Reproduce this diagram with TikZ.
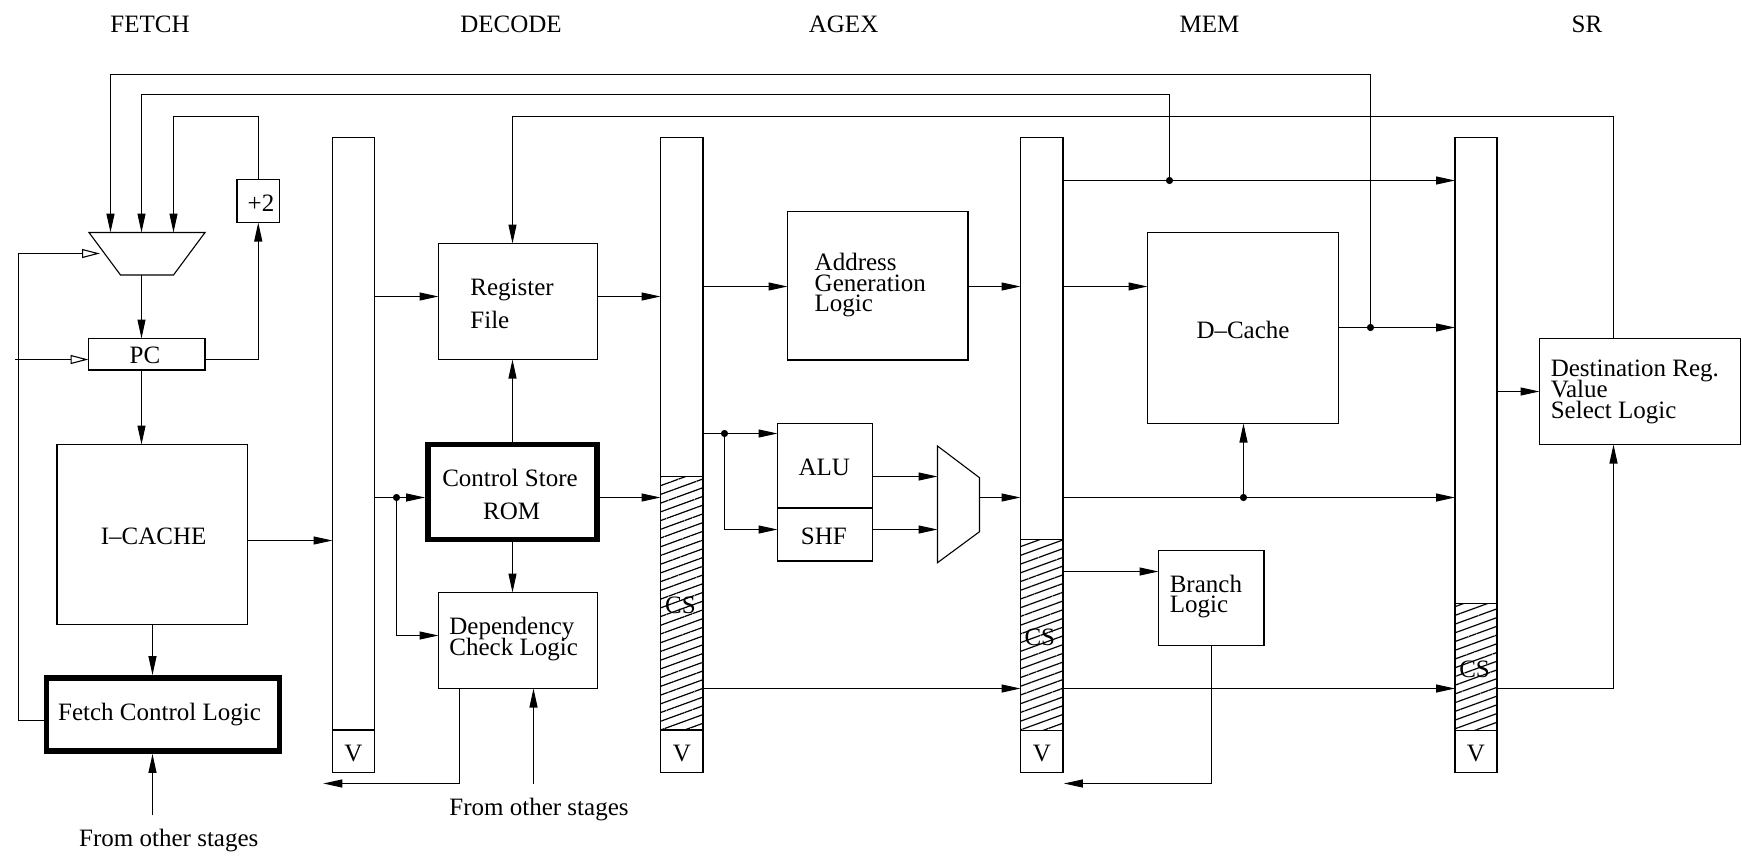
\documentclass[tikz,border=0pt]{standalone}
\usepackage{fontspec}
\setmainfont{Liberation Serif}
\usetikzlibrary{arrows.meta,fit,patterns.meta}
\begin{document}
\begin{tikzpicture}[x=0.5pt,y=-0.5pt,
  ln/.style={line width=0.55pt},
  arr/.style={ln,-{Triangle[length=9.5pt,width=4pt]}},
  oarr/.style={ln,-{Triangle[open,length=9pt,width=4.5pt]}},
  blk/.style={draw,ln,inner sep=0pt,outer sep=0pt},
  thk/.style={draw,line width=2.75pt,inner sep=0pt},
  hatchbox/.style={draw,ln,inner sep=0pt,outer sep=0pt,pattern color=black,
     pattern={Lines[angle=20,distance=4.1pt,line width=0.6pt]}},
  txt/.style={inner sep=0pt,font=\fontsize{12.5pt}{15pt}\selectfont},
  ctxt/.style={txt,anchor=base},
  ltxt/.style={txt,anchor=base west},
  dot/.style={circle,fill,inner sep=0pt,minimum size=3.6pt},
]
\useasboundingbox (0,0) rectangle (1742,857);

% stage labels
\node[ctxt] (sFetch) at (150,32.3) {FETCH};
\node[ctxt] (sDecode) at (511,32.3) {DECODE};
\node[ctxt] (sAgex) at (843.6,32.3) {AGEX};
\node[ctxt] (sMem) at (1209.6,32.3) {MEM};
\node[ctxt] (sSr) at (1587,32.3) {SR};

% hatched CS parts of latches
\node[hatchbox, fit={(660.5,476.5) (703,730)}] (h2) {};
\node[hatchbox, fit={(1020.5,539.5) (1063,730.5)}] (h3) {};
\node[hatchbox, fit={(1455,603.5) (1497,730.5)}] (h4) {};

% latches
\node[blk, fit={(332.5,137.5) (374.5,772.5)}] (L1) {};
\node[blk, fit={(660.5,137.5) (703,772.5)}] (L2) {};
\node[blk, fit={(1020.5,137.5) (1063,772.5)}] (L3) {};
\node[blk, fit={(1455,137.5) (1497,772.5)}] (L4) {};
\node[blk, fit={(332.5,730) (374.5,772.5)}] (V1) {};
\node[blk, fit={(660.5,730) (703,772.5)}] (V2) {};
\node[blk, fit={(1020.5,730.5) (1063,772.5)}] (V3) {};
\node[blk, fit={(1455,730.5) (1497,772.5)}] (V4) {};
\node[ctxt] (v1t) at (353.5,761.7) {V};
\node[ctxt] (v2t) at (681.8,761.7) {V};
\node[ctxt] (v3t) at (1041.8,761.7) {V};
\node[ctxt] (v4t) at (1476,761.7) {V};
\node[ctxt] (cs2) at (680.5,613.3) {CS};
\node[ctxt] (cs3) at (1039.8,645) {CS};
\node[ctxt] (cs4) at (1474.6,677.3) {CS};

% boxes
\node[blk, fit={(88.5,338.5) (205,370)}] (pc) {};
\node[blk, fit={(237,179.5) (279.5,222.5)}] (p2) {};
\node[blk, fit={(57,444.5) (247.5,624.5)}] (ic) {};
\node[thk, fit={(46.5,677.8) (279.5,751.2)}] (fcl) {};
\node[blk, fit={(438.5,243.5) (597.5,359.5)}] (rf) {};
\node[thk, fit={(427.8,444.5) (597.2,539.5)}] (csr) {};
\node[blk, fit={(438.5,592.5) (597.5,688.5)}] (dcl) {};
\node[blk, fit={(787.5,211.5) (968,360)}] (agl) {};
\node[blk, fit={(777.5,423.5) (872.5,508)}] (alu) {};
\node[blk, fit={(777.5,508) (872.5,561)}] (shf) {};
\node[blk, fit={(1147.5,232.5) (1338.5,423.5)}] (dc) {};
\node[blk, fit={(1158.5,550.5) (1264,645.5)}] (bl) {};
\node[blk, fit={(1539.5,338.5) (1740.5,444.5)}] (drv) {};

% muxes
\draw[ln] (89,232.5) coordinate (m1a) -- (205,232.5) coordinate (m1b)
  -- (173.5,275) coordinate (m1c) -- (120.5,275) coordinate (m1d) -- cycle;
\draw[ln] (937.5,446) coordinate (m2a) -- (979.5,477.7) coordinate (m2b)
  -- (979.5,531.7) coordinate (m2c) -- (937.5,562.7) coordinate (m2d) -- cycle;

% texts
\node[ctxt] (pct) at (145,363.3) {PC};
\node[ctxt] (p2t) at (261,211.7) {+2};
\node[ctxt] (ict) at (153.7,544) {I--CACHE};
\node[ctxt] (fclt) at (159.5,720) {Fetch Control Logic};
\node[ctxt] (fos1t) at (168.8,846.5) {From other stages};
\node[ctxt] (fos2t) at (539,815) {From other stages};
\node[ctxt] (csrt1) at (510,486.7) {Control Store};
\node[ctxt] (csrt2) at (511.7,519) {ROM};
\node[ctxt] (alut) at (824.2,475) {ALU};
\node[ctxt] (shft) at (823.8,544) {SHF};
\node[ctxt] (dct) at (1243,338.3) {D--Cache};
\node[ltxt] (rft1) at (470,295) {Register};
\node[ltxt] (rft2) at (470,328) {File};
\node[ltxt] (aglt1) at (814.3,270) {Address};
\node[ltxt] (aglt2) at (814.3,291) {Generation};
\node[ltxt] (aglt3) at (814.3,311) {Logic};
\node[ltxt] (dclt1) at (449,634) {Dependency};
\node[ltxt] (dclt2) at (449,655.7) {Check Logic};
\node[ltxt] (blt1) at (1169.4,592.7) {Branch};
\node[ltxt] (blt2) at (1169.4,612.5) {Logic};
\node[ltxt] (drvt1) at (1550.4,376.5) {Destination Reg.};
\node[ltxt] (drvt2) at (1550.4,397.5) {Value};
\node[ltxt] (drvt3) at (1550.4,418) {Select Logic};

% junctions
\coordinate (j1) at (1370.5,327.5);
\coordinate (j2) at (1169.5,180.5);
\coordinate (j3) at (396.5,497.5);
\coordinate (j4) at (724.5,433.5);
\coordinate (j5) at (1243.5,497.5);
\coordinate (pcin) at (15,359.5);
\coordinate (fos1) at (152.5,815);
\coordinate (fos2) at (533.5,783.5);
\coordinate (dclout) at (323.3,783.5);
\coordinate (blout) at (1063.9,783.5);

% feedback lines over the top
\draw[arr,line width=0.75pt] (j1) |- (110.5,74.5) -- (m1a -| 110.5,0);
\draw[arr] (j2) |- (141.5,94.5) -- (m1a -| 141.5,0);
\draw[arr] (p2.north) |- (173.5,116.5) -- (m1a -| 173.5,0);
\draw[arr] (drv.north -| 1613.5,0) |- (512.5,116.5) -- (rf.north -| 512.5,0);

% fetch stage
\draw[oarr] (fcl.west |- 0,720.5) -| (18.5,253.5) -- (100,253.5);
\draw[oarr] (pcin) -- (pc.west |- pcin);
\draw[arr] (pc.east |- 0,359.5) -| (p2.south);
\draw[arr] (m1d -| 141.5,0) -- (pc.north -| 141.5,0);
\draw[arr] (pc.south -| 141.5,0) -- (ic.north -| 141.5,0);
\draw[arr] (ic.south -| 152.5,0) -- (fcl.north -| 152.5,0);
\draw[arr] (fos1) -- (fos1 |- fcl.south);
\draw[arr] (ic.east |- 0,540.5) -- (L1.west |- 0,540.5);

% decode stage
\draw[arr] (L1.east |- 0,296.5) -- (rf.west |- 0,296.5);
\draw[ln] (L1.east |- j3) -- (j3);
\draw[arr] (j3) -- (csr.west |- j3);
\draw[arr] (j3) |- (dcl.west |- 0,635.5);
\draw[arr] (csr.north -| 512.5,0) -- (rf.south -| 512.5,0);
\draw[arr] (csr.south -| 512.5,0) -- (dcl.north -| 512.5,0);
\draw[arr] (csr.east |- j3) -- (L2.west |- j3);
\draw[arr] (rf.east |- 0,296.5) -- (L2.west |- 0,296.5);
\draw[arr] (dcl.south -| 459.5,0) |- (dclout);
\draw[arr] (fos2) -- (fos2 |- dcl.south);

% agex stage
\draw[arr] (L2.east |- 0,286.5) -- (agl.west |- 0,286.5);
\draw[arr] (agl.east |- 0,286.5) -- (L3.west |- 0,286.5);
\draw[ln] (L2.east |- j4) -- (j4);
\draw[arr] (j4) -- (alu.west |- j4);
\draw[arr] (j4) |- (shf.west |- 0,529.5);
\draw[arr] (alu.east |- 0,476.5) -- (m2a |- 0,476.5);
\draw[arr] (shf.east |- 0,529.5) -- (m2a |- 0,529.5);
\draw[arr] (m2b |- j3) -- (L3.west |- j3);
\draw[arr] (L2.east |- 0,688.5) -- (L3.west |- 0,688.5);

% mem stage
\draw[ln] (L3.east |- j2) -- (j2);
\draw[arr] (j2) -- (L4.west |- j2);
\draw[arr] (L3.east |- 0,286.5) -- (dc.west |- 0,286.5);
\draw[ln] (dc.east |- j1) -- (j1);
\draw[arr] (j1) -- (L4.west |- j1);
\draw[ln] (L3.east |- j5) -- (j5);
\draw[arr] (j5) -- (L4.west |- j5);
\draw[arr] (j5) -- (j5 |- dc.south);
\draw[arr] (L3.east |- 0,571.5) -- (bl.west |- 0,571.5);
\draw[arr] (L3.east |- 0,688.5) -- (L4.west |- 0,688.5);
\draw[arr] (bl.south -| 1211.5,0) |- (blout);

% sr stage
\draw[arr] (L4.east |- 0,391.5) -- (drv.west |- 0,391.5);
\draw[arr] (L4.east |- 0,688.5) -| (drv.south -| 1613.5,0);

% junction dots
\node[dot] (d1) at (j1) {};
\node[dot] (d2) at (j2) {};
\node[dot] (d3) at (j3) {};
\node[dot] (d4) at (j4) {};
\node[dot] (d5) at (j5) {};
\end{tikzpicture}
\end{document}
